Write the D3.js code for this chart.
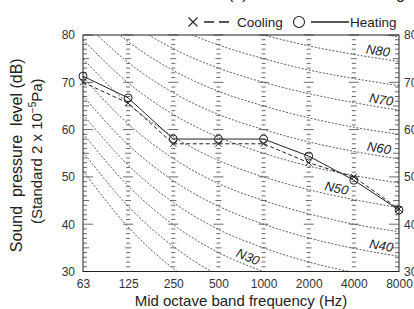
<!DOCTYPE html>
<html>
<head>
<meta charset="utf-8">
<script src="https://cdn.jsdelivr.net/npm/d3@7"></script>
<style>
  html, body { margin: 0; padding: 0; background: #fff; }
  svg { display: block; font-family: "Liberation Sans", Arial, sans-serif; }
</style>
</head>
<body>
<svg id="chart" width="414" height="309"></svg>
<script>
// octave band centres
const freqs = ["63", "125", "250", "500", "1000", "2000", "4000", "8000"];

// measured levels (dB)
const heating = [71.3, 66.7, 58.0, 58.0, 58.0, 54.4, 49.3, 43.0];
const cooling = [70.0, 65.6, 57.0, 57.0, 57.0, 53.0, 50.0, 43.2];

// N-curves, level per band
const nValues = [20, 25, 30, 35, 40, 45, 50, 55, 60, 65, 70, 75, 80, 85];
const nLevels = [
  [51.3, 39.4, 30.6, 24.3, 20, 16.8, 14.4, 12.6],
  [55.3, 43.8, 35.3, 29.2, 25, 21.9, 19.5, 17.8],
  [59.2, 48.1, 39.9, 34.0, 30, 27.0, 24.7, 22.9],
  [63.2, 52.5, 44.6, 38.9, 35, 32.0, 29.8, 28.1],
  [67.1, 56.8, 49.2, 43.8, 40, 37.1, 34.9, 33.2],
  [71.1, 61.2, 53.9, 48.6, 45, 42.2, 40.0, 38.4],
  [75.0, 65.5, 58.5, 53.5, 50, 47.3, 45.2, 43.5],
  [79.0, 69.9, 63.2, 58.4, 55, 52.3, 50.3, 48.7],
  [82.9, 74.2, 67.8, 63.2, 60, 57.4, 55.4, 53.8],
  [86.9, 78.6, 72.5, 68.1, 65, 62.5, 60.5, 59.0],
  [90.8, 82.9, 77.1, 73.0, 70, 67.6, 65.7, 64.1],
  [94.8, 87.3, 81.8, 77.9, 75, 72.6, 70.8, 69.3],
  [98.7, 91.6, 86.4, 82.7, 80, 77.7, 75.9, 74.4],
  [102.7, 96.0, 91.1, 87.6, 85, 82.8, 81.0, 79.6]
];
const nLabelValues = [30, 40, 50, 60, 70, 80];

const yTicks = [30, 40, 50, 60, 70, 80];

// ---- layout ----
const W = 414, H = 309;
const plotLeft = 83, plotRight = 399, plotTop = 35, plotBottom = 271.5;
const font = "'Liberation Sans', Arial, sans-serif";
// where along the curve (band index) each N label sits
const nLabelAt = { 30: 3.59, 40: 6.58, 50: 5.58, 60: 6.53, 70: 6.58, 80: 6.51 };
const ink = "#222";

const svg = d3.select("#chart");

const x = d3.scaleLinear().domain([0, freqs.length - 1]).range([plotLeft, plotRight]);
const y = d3.scaleLinear().domain([30, 80]).range([plotBottom, plotTop]);

svg.append("defs").append("clipPath").attr("id", "plotClip")
  .append("rect")
  .attr("x", plotLeft).attr("y", plotTop)
  .attr("width", plotRight - plotLeft).attr("height", plotBottom - plotTop);

// title, mostly cut off by the top edge
svg.append("text")
  .attr("x", 228).attr("y", -1)
  .attr("font-size", 16).attr("fill", ink)
  .text("(b) Noise level at heating");

// N-curves
const curveLine = d3.line()
  .x((d, i) => x(i))
  .y(d => y(d))
  .curve(d3.curveMonotoneX);

svg.append("g").attr("clip-path", "url(#plotClip)")
  .selectAll("path")
  .data(nLevels)
  .enter()
  .append("path")
  .attr("d", curveLine)
  .attr("fill", "none")
  .attr("stroke", "#333")
  .attr("stroke-width", 0.8)
  .attr("stroke-dasharray", "2,1.6");

// N labels
nLabelValues.forEach(n => {
  const levels = nLevels[nValues.indexOf(n)];
  const pos = nLabelAt[n];
  const i0 = Math.floor(pos), i1 = i0 + 1;
  const t = pos - i0;
  const lx = x(pos);
  const ly = y(levels[i0] + (levels[i1] - levels[i0]) * t);
  const angle = Math.atan2(y(levels[i1]) - y(levels[i0]), x(i1) - x(i0)) * 180 / Math.PI;

  svg.append("text")
    .attr("transform", `translate(${lx},${ly}) rotate(${angle})`)
    .attr("y", -3)
    .attr("text-anchor", "middle")
    .attr("font-size", 13)
    .attr("font-style", "italic")
    .attr("fill", ink)
    .text("N" + n);
});

// ruler ticks on each band column
const minorLevels = d3.range(30, 81);
function tickLen(v) {
  if (v % 10 === 0) return 10;
  if (v % 5 === 0) return 6;
  return 4;
}

freqs.forEach((f, i) => {
  const cx = x(i);
  const g = svg.append("g");
  g.selectAll("line")
    .data(minorLevels)
    .enter()
    .append("line")
    .attr("x1", d => {
      if (i === 0) return cx;
      if (i === freqs.length - 1) return cx - tickLen(d);
      return cx - tickLen(d) / 2;
    })
    .attr("x2", d => {
      if (i === 0) return cx + tickLen(d);
      if (i === freqs.length - 1) return cx;
      return cx + tickLen(d) / 2;
    })
    .attr("y1", d => y(d))
    .attr("y2", d => y(d))
    .attr("stroke", "#444")
    .attr("stroke-width", 0.8);
});

// frame
svg.append("rect")
  .attr("x", plotLeft).attr("y", plotTop)
  .attr("width", plotRight - plotLeft).attr("height", plotBottom - plotTop)
  .attr("fill", "none")
  .attr("stroke", ink)
  .attr("stroke-width", 1);

// axes
const xAxis = svg.append("g")
  .attr("transform", `translate(0,${plotBottom})`)
  .call(d3.axisBottom(x).tickValues(d3.range(freqs.length)).tickFormat(i => freqs[i]).tickSize(0).tickPadding(8));

const yAxisL = svg.append("g")
  .attr("transform", `translate(${plotLeft},0)`)
  .call(d3.axisLeft(y).tickValues(yTicks).tickSize(0).tickPadding(8));

const yAxisR = svg.append("g")
  .attr("transform", `translate(${plotRight},0)`)
  .call(d3.axisRight(y).tickValues(yTicks).tickSize(0).tickPadding(5));

[xAxis, yAxisL, yAxisR].forEach(a => {
  a.attr("font-family", font);
  a.select(".domain").remove();
  a.selectAll("text")
    .attr("font-size", 12)
    .attr("fill", "#333");
});

// series
const seriesLine = d3.line()
  .x((d, i) => x(i))
  .y(d => y(d));

svg.append("path")
  .datum(cooling)
  .attr("d", seriesLine)
  .attr("fill", "none")
  .attr("stroke", ink)
  .attr("stroke-width", 1)
  .attr("stroke-dasharray", "4,2.5");

svg.append("path")
  .datum(heating)
  .attr("d", seriesLine)
  .attr("fill", "none")
  .attr("stroke", ink)
  .attr("stroke-width", 1);

function crossPath(cx, cy, s) {
  return `M${cx - s},${cy - s}L${cx + s},${cy + s}M${cx - s},${cy + s}L${cx + s},${cy - s}`;
}

svg.append("g").selectAll("path")
  .data(cooling)
  .enter()
  .append("path")
  .attr("d", (d, i) => crossPath(x(i), y(d), 3))
  .attr("stroke", ink)
  .attr("stroke-width", 1)
  .attr("fill", "none");

svg.append("g").selectAll("circle")
  .data(heating)
  .enter()
  .append("circle")
  .attr("cx", (d, i) => x(i))
  .attr("cy", d => y(d))
  .attr("r", 4)
  .attr("fill", "none")
  .attr("stroke", ink)
  .attr("stroke-width", 1);

// legend
const legend = svg.append("g");
legend.append("path")
  .attr("d", crossPath(193, 22, 4.5))
  .attr("stroke", ink).attr("stroke-width", 1.1);
legend.append("line")
  .attr("x1", 204).attr("x2", 234).attr("y1", 22).attr("y2", 22)
  .attr("stroke", ink).attr("stroke-width", 1.6)
  .attr("stroke-dasharray", "10,5");
legend.append("text")
  .attr("x", 237).attr("y", 26.5)
  .attr("font-size", 13.5).attr("fill", ink)
  .text("Cooling");
legend.append("circle")
  .attr("cx", 299).attr("cy", 22).attr("r", 5.5)
  .attr("fill", "none").attr("stroke", ink).attr("stroke-width", 1.1);
legend.append("line")
  .attr("x1", 311).attr("x2", 349).attr("y1", 22).attr("y2", 22)
  .attr("stroke", ink).attr("stroke-width", 1.6);
legend.append("text")
  .attr("x", 350).attr("y", 26.5)
  .attr("font-size", 13.5).attr("fill", ink)
  .text("Heating");

// axis titles
svg.append("text")
  .attr("x", (plotLeft + plotRight) / 2).attr("y", 306)
  .attr("text-anchor", "middle")
  .attr("font-size", 15).attr("fill", ink)
  .text("Mid octave band frequency (Hz)");

svg.append("text")
  .attr("transform", `translate(22,${(plotTop + plotBottom) / 2 + 2}) rotate(-90)`)
  .attr("text-anchor", "middle")
  .attr("font-size", 16).attr("fill", ink)
  .attr("xml:space", "preserve")
  .text("Sound  pressure  level (dB)");

const std = svg.append("text")
  .attr("transform", `translate(42,${(plotTop + plotBottom) / 2 - 2}) rotate(-90)`)
  .attr("text-anchor", "middle")
  .attr("font-size", 15).attr("fill", ink);
std.append("tspan").text("(Standard 2 x 10");
std.append("tspan").attr("dy", -6).attr("font-size", 10).text("\u22125");
std.append("tspan").attr("dy", 6).text("Pa)");
</script>
</body>
</html>
